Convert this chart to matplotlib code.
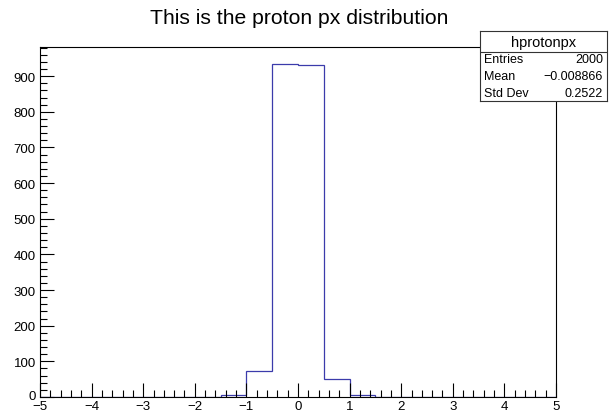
import matplotlib
matplotlib.use("Agg")
import matplotlib.pyplot as plt
import matplotlib.transforms as mtransforms
from matplotlib.ticker import MultipleLocator
from matplotlib.lines import Line2D

plt.rcParams['font.family'] = ['Liberation Sans', 'DejaVu Sans']

# Histogram data (20 bins from -5 to 5)
bin_edges = [-5.0, -4.5, -4.0, -3.5, -3.0, -2.5, -2.0, -1.5, -1.0, -0.5, 0.0,
             0.5, 1.0, 1.5, 2.0, 2.5, 3.0, 3.5, 4.0, 4.5, 5.0]
counts = [0, 0, 0, 0, 0, 0, 0, 7, 73, 935, 930, 50, 5, 0, 0, 0, 0, 0, 0, 0]

title = "This is the proton px distribution"
stats_name = "hprotonpx"
stats_labels = ["Entries", "Mean", "Std Dev"]
stats_values = ["2000", "\u22120.008866", "0.2522"]

W, H = 614, 414
fig = plt.figure(figsize=(W / 100, H / 100), dpi=100)

x0, x1, y0, y1 = 40, 556, 48, 398
ax = fig.add_axes([x0 / W, 1 - y1 / H, (x1 - x0) / W, (y1 - y0) / H])
ax.stairs(counts, bin_edges, color='#3b3bab', linewidth=0.9)
ax.set_xlim(-5, 5)
ax.set_ylim(0, max(counts) * 1.05)

ax.xaxis.set_major_locator(MultipleLocator(1))
ax.xaxis.set_minor_locator(MultipleLocator(0.2))
ax.yaxis.set_major_locator(MultipleLocator(100))
ax.yaxis.set_minor_locator(MultipleLocator(20))
ax.tick_params(which='both', direction='in', top=False, right=False,
               labelsize=9.5, colors='black', width=0.8)
ax.tick_params(which='major', length=10)
ax.tick_params(axis='y', which='major', pad=3)
ax.tick_params(axis='x', which='major', pad=2.5)
ax.tick_params(which='minor', length=5)
for s in ax.spines.values():
    s.set_linewidth(0.8)

# nudge the "0" y label up slightly so it does not touch the x label
fig.canvas.draw()
for lbl in ax.get_yticklabels():
    if lbl.get_text() in ("0",):
        lbl.set_transform(lbl.get_transform() +
                          mtransforms.ScaledTranslation(0, 2.5 / 100, fig.dpi_scale_trans))

fig.text(299 / W, 1 - 18 / H, title, ha='center', va='center', fontsize=15.2)

# Stats box
bx0, bx1, by0, by1 = 480, 607, 32, 102
sax = fig.add_axes([bx0 / W, 1 - by1 / H, (bx1 - bx0) / W, (by1 - by0) / H])
sax.set_xlim(bx0, bx1)
sax.set_ylim(by1, by0)
sax.set_xticks([])
sax.set_yticks([])
sax.set_facecolor('white')
for s in sax.spines.values():
    s.set_linewidth(0.8)
    s.set_color('#333333')
sax.add_line(Line2D([bx0, bx1], [53, 53], color='#333333', linewidth=0.8))
sax.text((bx0 + bx1) / 2, 42.5, stats_name, ha='center', va='center', fontsize=10.5)
ys = [60, 77, 94]
for lab, val, yy in zip(stats_labels, stats_values, ys):
    sax.text(bx0 + 4, yy, lab, ha='left', va='center', fontsize=9)
    sax.text(bx1 - 4, yy, val, ha='right', va='center', fontsize=9)

fig.savefig("out.png", dpi=100)
